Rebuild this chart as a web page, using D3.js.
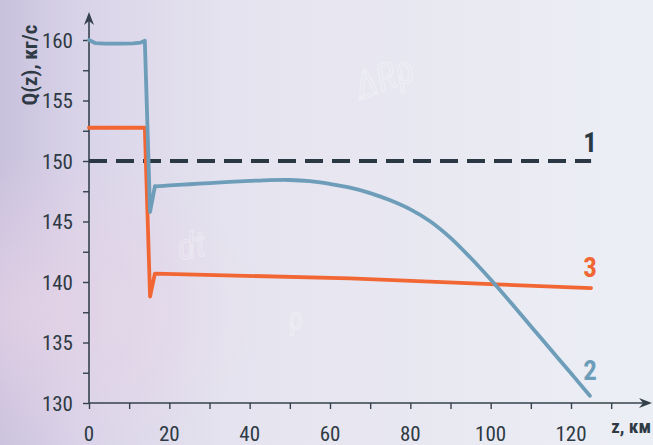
<!DOCTYPE html>
<html><head><meta charset="utf-8">
<script src="https://cdn.jsdelivr.net/npm/d3@7/dist/d3.min.js"></script>
<style>
html,body{margin:0;padding:0;overflow:hidden;}
svg{display:block;}
text{font-family:"Liberation Sans Narrow","Roboto Condensed","Arial Narrow",sans-serif;}
</style></head>
<body>
<svg id="c" width="653" height="445"></svg>
<script>
// ---- data ----
const xTicks = [0, 20, 40, 60, 80, 100, 120];
const yTicks = [130, 135, 140, 145, 150, 155, 160];
const series1Z = [0, 125];
const series1Q = [150, 150];
// step part of curve 2
const series2StepZ = [0, 1.5, 4, 8, 11, 12.8, 13.9, 15.2, 16.4];
const series2StepQ = [160.0, 159.75, 159.7, 159.7, 159.72, 159.78, 159.95, 145.8, 147.9];
// smooth part of curve 2
const series2Z = [16.4, 20, 25, 30, 35, 40, 45, 50, 55, 60, 65, 70, 75, 80, 85, 90, 95, 100, 105, 110, 115, 120, 124.7];
const series2Q = [147.9, 147.98, 148.08, 148.18, 148.27, 148.35, 148.42, 148.43, 148.33, 148.1, 147.8, 147.35, 146.75, 146.0, 145.0, 143.65, 142.0, 140.2, 138.3, 136.35, 134.4, 132.45, 130.6];
const series3Z = [0, 13.9, 15.2, 16.4, 65, 101.6, 125];
const series3Q = [152.75, 152.75, 138.8, 140.7, 140.3, 139.8, 139.5];
const seriesLabels = ["1", "2", "3"];
const yTitle = "Q(z), кг/с";
const xTitle = "z, км";

const svg = d3.select("#c");
const W = 653, H = 445;

// background
const defs = svg.append("defs");
const g1 = defs.append("linearGradient").attr("id","bg").attr("x1","0").attr("x2","1").attr("y1","0").attr("y2","0");
[["0%","#c8c1dd"],["12%","#d9d3e8"],["35%","#e5e3ef"],["100%","#eceef5"]].forEach(s=>g1.append("stop").attr("offset",s[0]).attr("stop-color",s[1]));
const g2 = defs.append("radialGradient").attr("id","pink").attr("cx","0.05").attr("cy","0.7").attr("r","0.35");
g2.append("stop").attr("offset","0%").attr("stop-color","#e8d3e6").attr("stop-opacity",0.7);
g2.append("stop").attr("offset","100%").attr("stop-color","#e8d3e6").attr("stop-opacity",0);
svg.append("rect").attr("width",W).attr("height",H).attr("fill","url(#bg)");
svg.append("rect").attr("width",W).attr("height",H).attr("fill","url(#pink)");

// faint watermark formulas
const wm = svg.append("g").attr("fill","none").attr("stroke","#ffffff").attr("stroke-opacity",0.3).attr("font-style","italic");
[["ΔRρ",360,100,38,-20],["dt",180,260,36,-10],["ρ",290,330,30,-10]].forEach(d=>{
  wm.append("text").attr("transform",`translate(${d[1]},${d[2]}) rotate(${d[4]})`).attr("font-size",d[3]).attr("stroke-width",1.2).text(d[0]);
});

const x = d3.scaleLinear().domain([0,120]).range([89,571]);
const y = d3.scaleLinear().domain([130,160]).range([403,40]);
const axisColor = "#35424d";

// axes lines
svg.append("line").attr("x1",x(0)).attr("x2",645).attr("y1",y(130)).attr("y2",y(130)).attr("stroke",axisColor).attr("stroke-width",1.6);
svg.append("line").attr("x1",x(0)).attr("x2",x(0)).attr("y1",y(130)).attr("y2",18).attr("stroke",axisColor).attr("stroke-width",1.6);
// arrow heads
svg.append("path").attr("d",`M${x(0)},12 L${x(0)+5},25 L${x(0)},21 L${x(0)-5},25 Z`).attr("fill",axisColor);
svg.append("path").attr("d",`M652,${y(130)} L639,${y(130)-5} L643,${y(130)} L639,${y(130)+5} Z`).attr("fill",axisColor);

// ticks via d3 axis
const xAxis = d3.axisBottom(x).tickValues(d3.range(0,131,10)).tickSize(6).tickFormat("");
const gx = svg.append("g").attr("transform",`translate(0,${y(130)})`).call(xAxis);
gx.select(".domain").remove();
gx.selectAll("line").attr("stroke",axisColor).attr("stroke-width",1.4);
const yAxis = d3.axisLeft(y).tickValues(d3.range(130,160.1,2.5)).tickSize(6).tickFormat("");
const gy = svg.append("g").attr("transform",`translate(${x(0)},0)`).call(yAxis);
gy.select(".domain").remove();
gy.selectAll("line").attr("stroke",axisColor).attr("stroke-width",1.4);

// tick labels
svg.append("g").selectAll("text").data(xTicks).join("text")
  .attr("x",d=>x(d)).attr("y",441).attr("text-anchor","middle")
  .attr("font-size",21).attr("fill","#2e3a44").text(d=>d);
svg.append("g").selectAll("text").data(yTicks).join("text")
  .attr("x",73).attr("y",d=>y(d)).attr("dy","0.36em").attr("text-anchor","end")
  .attr("font-size",21).attr("fill","#2e3a44").text(d=>d);

// titles
svg.append("text").attr("transform","translate(37,65) rotate(-90)").attr("text-anchor","middle")
  .attr("font-size",21).attr("font-weight","bold").attr("fill","#2e3a44").text(yTitle);
svg.append("text").attr("x",651).attr("y",433).attr("text-anchor","end")
  .attr("font-size",19).attr("font-weight","bold").attr("fill","#2e3a44").text(xTitle);

// lines
const lineL = d3.line().x(d=>x(d[0])).y(d=>y(d[1]));
const lineS = d3.line().x(d=>x(d[0])).y(d=>y(d[1])).curve(d3.curveCatmullRom.alpha(0.5));
svg.append("path").datum(d3.zip(series1Z,series1Q)).attr("d",lineL)
  .attr("fill","none").attr("stroke","#2a3844").attr("stroke-width",4.2).attr("stroke-dasharray","18,9");
svg.append("path").datum(d3.zip(series3Z,series3Q)).attr("d",lineL)
  .attr("fill","none").attr("stroke","#f26633").attr("stroke-width",3.8).attr("stroke-linejoin","round").attr("stroke-linecap","round");
svg.append("path").datum(d3.zip(series2StepZ,series2StepQ)).attr("d",lineL)
  .attr("fill","none").attr("stroke","#6d9db8").attr("stroke-width",3.8).attr("stroke-linejoin","round").attr("stroke-linecap","round");
svg.append("path").datum(d3.zip(series2Z,series2Q)).attr("d",lineS)
  .attr("fill","none").attr("stroke","#6d9db8").attr("stroke-width",3.8).attr("stroke-linejoin","round").attr("stroke-linecap","round");

// series labels
const lab = [[seriesLabels[0],152,"#2a3844"],[seriesLabels[2],277,"#f26633"],[seriesLabels[1],380,"#6d9db8"]];
svg.append("g").selectAll("text").data(lab).join("text")
  .attr("x",597).attr("y",d=>d[1]).attr("text-anchor","end")
  .attr("font-size",27).attr("font-weight","bold").attr("fill",d=>d[2]).text(d=>d[0]);
</script>
</body></html>
